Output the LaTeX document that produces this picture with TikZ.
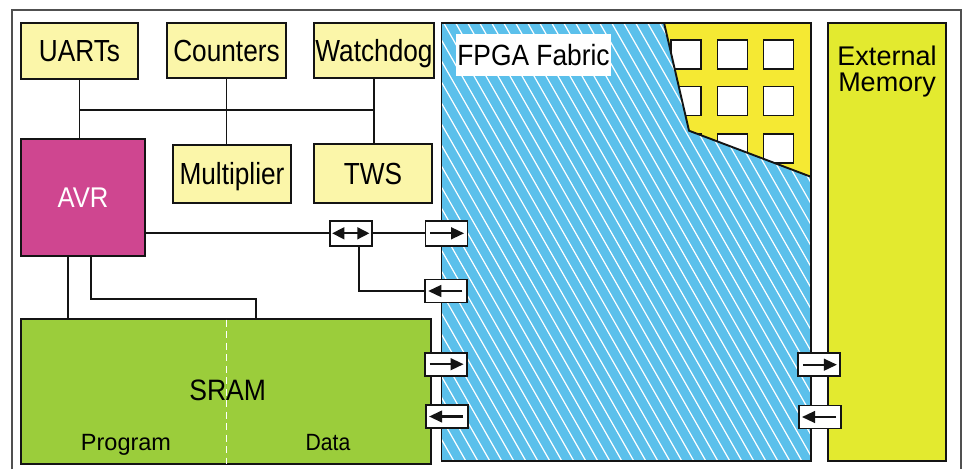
\documentclass[tikz,border=0pt]{standalone}
\usepackage{fontspec}
\setmainfont{Liberation Sans}
\newfontfamily\cnd[FakeStretch=0.86]{Liberation Sans}
\newfontfamily\cndb[FakeStretch=0.9]{Liberation Sans}
\usetikzlibrary{arrows.meta}
\definecolor{boxyellow}{HTML}{FBF6A9}
\definecolor{avrmag}{HTML}{CF4690}
\definecolor{sramgreen}{HTML}{9BCD3B}
\definecolor{fpgablue}{HTML}{5BC0EB}
\definecolor{fpgayellow}{HTML}{F5E933}
\definecolor{extyellow}{HTML}{E3EA2F}
\definecolor{framegray}{HTML}{505050}
\definecolor{ink}{HTML}{141414}
\begin{document}
\begin{tikzpicture}[x=1pt,y=-1pt,
  line/.style={draw=ink, line width=1.9pt},
  blk/.style={draw=ink, line width=1.9pt, inner sep=0pt},
  topbox/.style={blk, fill=boxyellow, font=\cnd\fontsize{30.5}{32}\selectfont, text height=21.8pt, text depth=0pt},
  port/.style={draw=ink, fill=white, line width=1.9pt, minimum width=42pt, minimum height=23pt, inner sep=0pt},
  shaft/.style={draw=ink, line width=2.1pt},
  head/.style={fill=ink},
  portR/.style={port, path picture={
     \draw[shaft] ([xshift=4.5pt]path picture bounding box.west) -- ([xshift=-12pt]path picture bounding box.east);
     \fill[head] ([xshift=-3.5pt]path picture bounding box.east) -- ++(-13pt,6.2pt) -- ++(0pt,-12.4pt) -- cycle;}},
  portL/.style={port, path picture={
     \draw[shaft] ([xshift=-4.5pt]path picture bounding box.east) -- ([xshift=12pt]path picture bounding box.west);
     \fill[head] ([xshift=3.5pt]path picture bounding box.west) -- ++(13pt,6.2pt) -- ++(0pt,-12.4pt) -- cycle;}},
  portB/.style={port, path picture={
     \draw[shaft] ([xshift=10pt]path picture bounding box.west) -- ([xshift=-10pt]path picture bounding box.east);
     \fill[head] ([xshift=2.5pt]path picture bounding box.west) -- ++(12pt,6.2pt) -- ++(0pt,-12.4pt) -- cycle;
     \fill[head] ([xshift=-2.5pt]path picture bounding box.east) -- ++(-12pt,6.2pt) -- ++(0pt,-12.4pt) -- cycle;}},
  hatch/.style={white, line width=1.2pt},
  cell/.style={draw=ink, fill=white, line width=1.9pt}
]
\useasboundingbox (0,0) rectangle (966,469);
\fill[white] (0,0) rectangle (966,469);

% outer frame
\draw[framegray, line width=1.7pt] (12,469) -- (12,10) -- (961,10) -- (961,469);

% peripheral boxes
\node[topbox, minimum width=117pt, minimum height=56pt] (uarts) at (79.5,51) {UARTs};
\node[topbox, minimum width=119pt, minimum height=55pt] (counters) at (226.5,50.5) {Counters};
\node[topbox, minimum width=120pt, minimum height=55pt] (watchdog) at (374,50.5) {Watchdog};
\node[topbox, minimum width=118pt, minimum height=58pt] (mult) at (232,174) {Multiplier};
\node[topbox, minimum width=118pt, minimum height=59pt] (tws) at (373,173.5) {TWS};

% AVR
\node[blk, fill=avrmag, text=white, minimum width=124pt, minimum height=117pt,
      font=\cndb\fontsize{28.5}{30}\selectfont, text height=20.4pt, text depth=0pt] (avr) at (83,197.5) {AVR};

% SRAM
\node[blk, fill=sramgreen, minimum width=410pt, minimum height=145pt] (sram) at (226,391.8) {};
\draw[white, line width=1.5pt, dash pattern=on 7pt off 4.5pt] ([xshift=0.7pt,yshift=-1.2pt]sram.north) -- ([xshift=0.7pt,yshift=1.2pt]sram.south);
\node[anchor=base, inner sep=0pt, font=\cndb\fontsize{29.5}{31}\selectfont] (sramlbl) at (227.7,400.7) {SRAM};
\node[anchor=base, inner sep=0pt, font=\fontsize{23.5}{25}\selectfont] (proglbl) at (126,450) {Program};
\node[anchor=base, inner sep=0pt, font=\cndb\fontsize{23.5}{25}\selectfont] (datalbl) at (328,450) {Data};

% FPGA fabric
\fill[fpgayellow] (441.5,22.7) rectangle (810.7,180);
\foreach \cx in {671,717.5,763.5}
  \foreach \cy in {40,86.5,134}
    \draw[cell] (\cx,\cy) rectangle ++(30,29);
\begin{scope}
  \clip (441.5,22.7) -- (664,22.7) -- (689,130.7) -- (810.7,176.7) -- (810.7,460.7) -- (441.5,460.7) -- cycle;
  \fill[fpgablue] (441,20) rectangle (812,462);
  \foreach \hx in {178,190,...,830}
    \draw[hatch] (\hx,20) -- (\hx+253,463);
\end{scope}
\draw[line] (664,22.7) -- (689,130.7) -- (810.7,176.7);
\node[blk, minimum width=369.2pt, minimum height=438pt] (fpga) at (626.1,241.7) {};
\node[fill=white, inner sep=0pt, minimum width=155pt, minimum height=42pt,
      font=\cndb\fontsize{29.3}{31}\selectfont, text height=21pt, text depth=0pt] (fpgalbl) at (533.5,55) {FPGA Fabric};

% external memory
\node[blk, fill=extyellow, minimum width=117.4pt, minimum height=438.3pt] (ext) at (887,241.85) {};
\node[anchor=north, inner sep=0pt, align=center, font=\fontsize{27}{26.5}\selectfont] (extlbl) at (887,45.3) {External\\Memory};

% ports
\node[portB, minimum height=25pt] (bidir) at (350.8,233.3) {};
\node[portR, minimum height=25pt] (pr1) at (446.5,233.3) {};
\node[portL] (pl1) at (445.8,291) {};
\node[portR] (pr2) at (446,364.2) {};
\node[portL] (pl2) at (446.7,416.5) {};
\node[portR] (pr3) at (819.3,364.7) {};
\node[portL] (pl3) at (819.6,417) {};

% bus and connectors
\coordinate (bus) at (0,110);
\draw[line] (uarts.south |- bus) -- (watchdog.south |- bus);
\draw[line] (uarts.south) -- (uarts.south |- avr.north);
\draw[line] (counters.south) -- (counters.south |- mult.north);
\draw[line] (watchdog.south) -- (watchdog.south |- tws.north);
\draw[line] (bidir.west) -- (bidir.west -| avr.east);
\draw[line] (bidir.east) -- (pr1.west);
\coordinate (bsouth) at ([xshift=8.5pt]bidir.south);
\draw[line] (bsouth) |- (pl1.west);
\coordinate (p1) at ([xshift=-15.3pt]avr.south);
\draw[line] (p1) -- (p1 |- sram.north);
\coordinate (p2) at ([xshift=7.7pt]avr.south);
\coordinate (p3) at (256,298.7);
\draw[line] (p2) -- (p2 |- p3) -- (p3) -- (p3 |- sram.north);
\end{tikzpicture}
\end{document}
